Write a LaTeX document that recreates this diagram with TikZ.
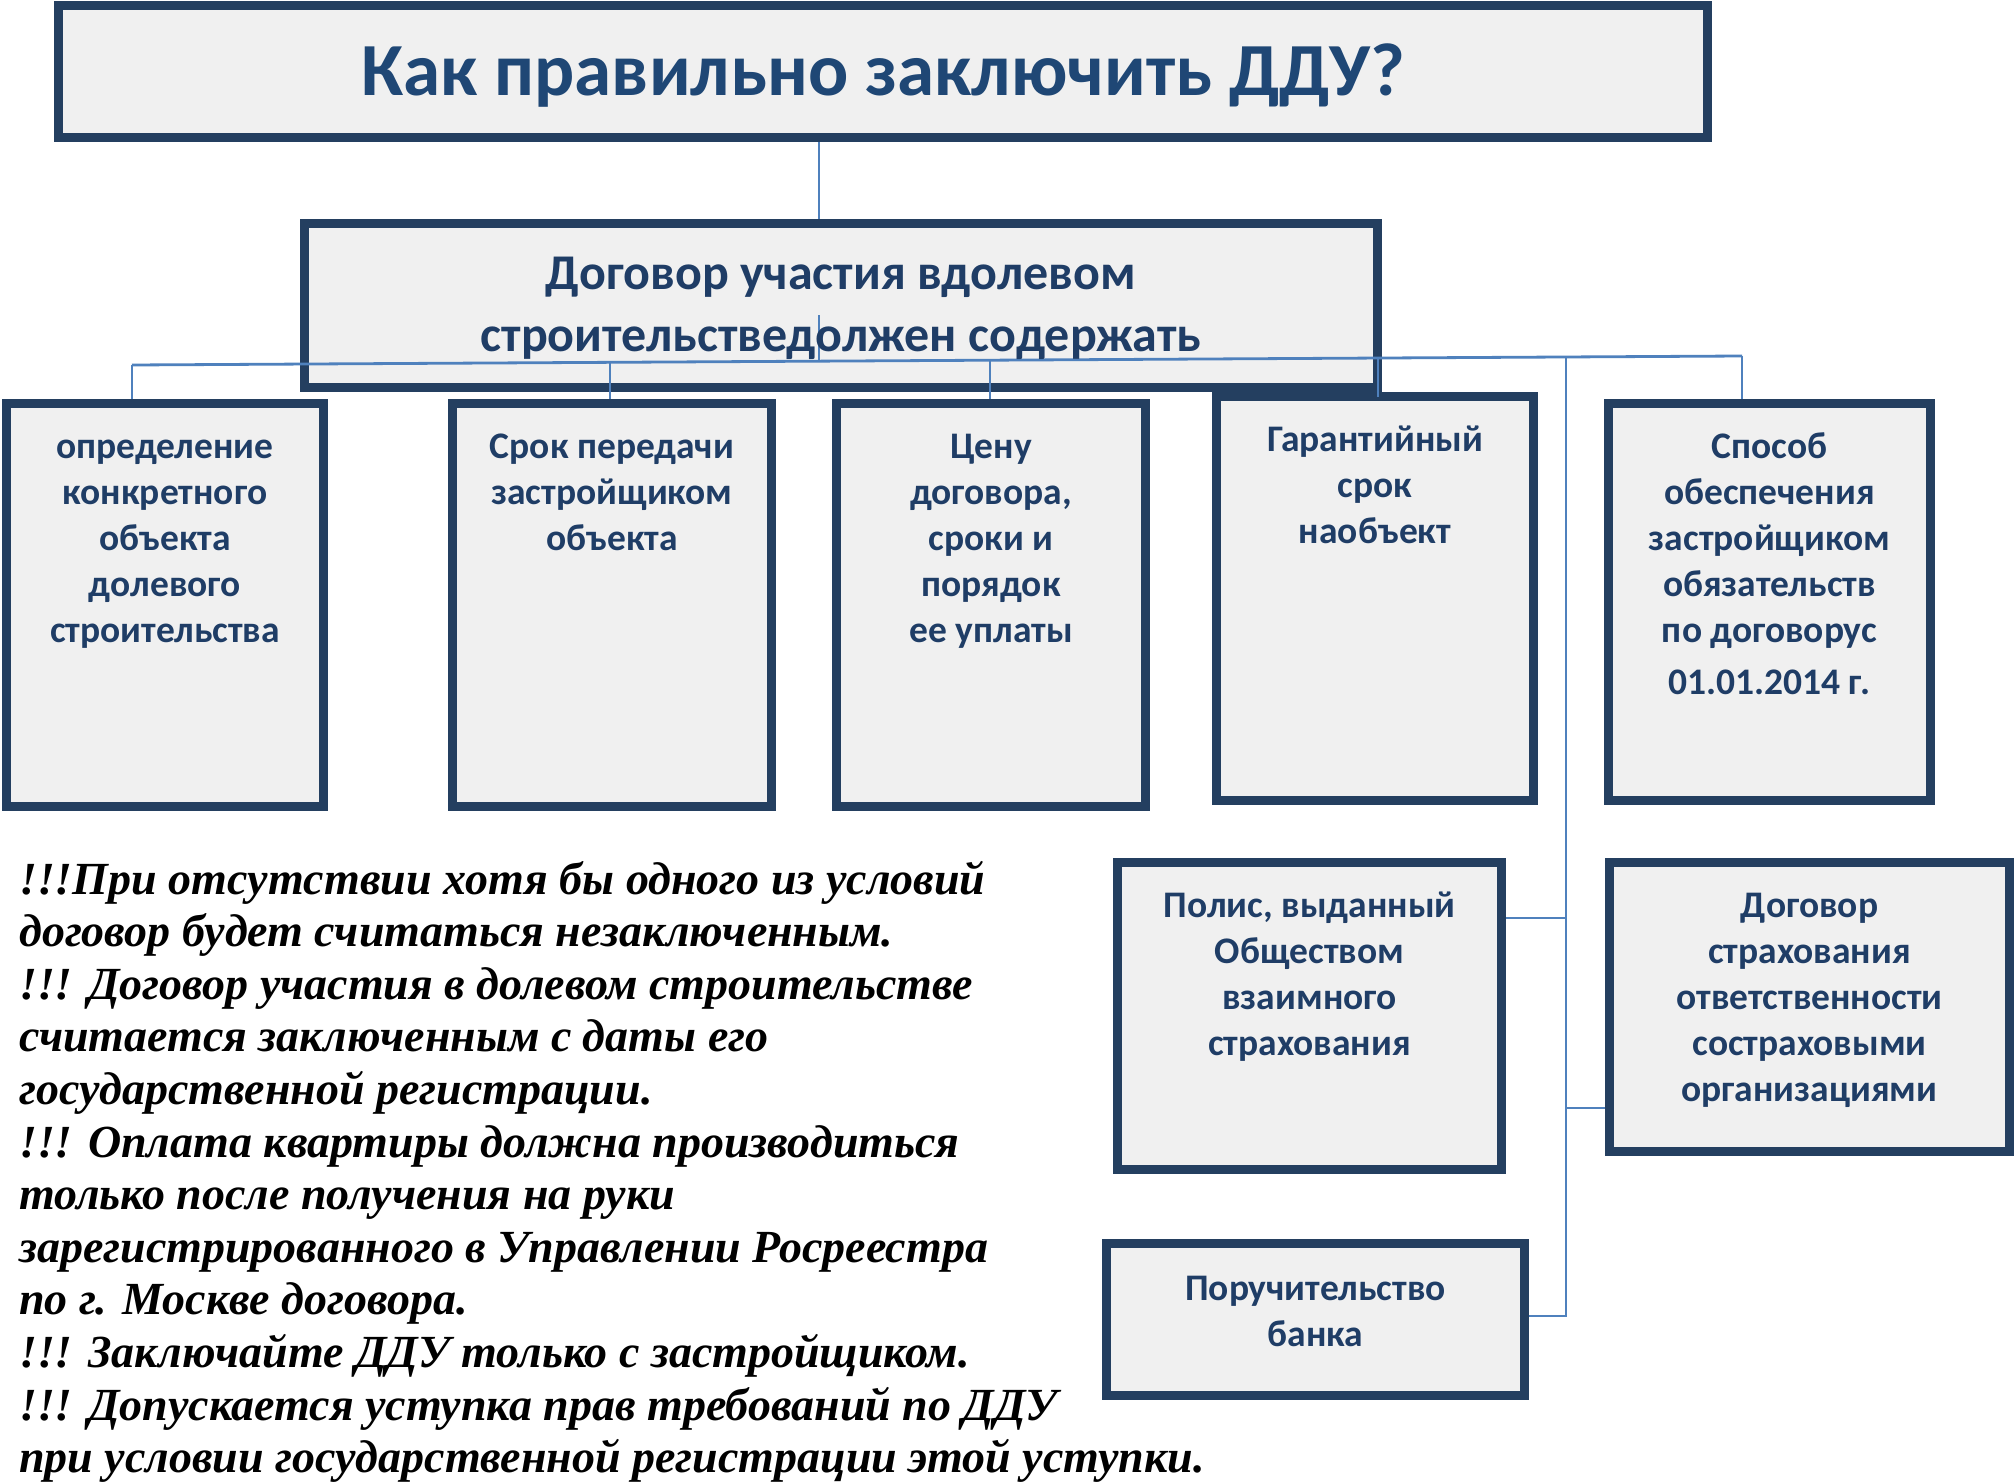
\documentclass[tikz,border=0pt]{standalone}
\usepackage{fontspec}
\setmainfont{Carlito}
\newfontfamily\notefont{Liberation Serif}
\usetikzlibrary{calc}
\definecolor{navyline}{HTML}{243F60}
\definecolor{boxfill}{HTML}{F0F0F0}
\definecolor{navytext}{HTML}{1F3D66}
\definecolor{titletext}{HTML}{1F4775}
\definecolor{conn}{HTML}{4F81BD}
\begin{document}
\begin{tikzpicture}[x=1pt,y=-1pt,
  box/.style={draw=navyline, fill=boxfill, line width=9pt, inner sep=0pt},
  btext/.style={text=navytext, font=\fontsize{37.5}{46}\selectfont\bfseries, inner sep=0pt, anchor=base},
  wire/.style={draw=conn, line width=2.8pt},
  notetext/.style={text=black, font=\notefont\bfseries\itshape\fontsize{46}{52.6}\selectfont, inner sep=0pt, anchor=base west}
]
\useasboundingbox[fill=white] (0,0) rectangle (2016,1482);

% boxes
\node[box, minimum width=1649pt, minimum height=132pt, text=titletext,
      font=\fontsize{75}{80}\selectfont\bfseries, text height=48pt, text depth=0pt] (title) at (883,71.5) {Как правильно заключить ДДУ?};
\node[box, minimum width=1073pt, minimum height=164pt] (sub) at (841,305.5) {};
\node[box, minimum width=317pt, minimum height=403pt] (b1) at (165,605) {};
\node[box, minimum width=319pt, minimum height=403pt] (b2) at (612,605) {};
\node[box, minimum width=309pt, minimum height=403pt] (b3) at (991,605) {};
\node[box, minimum width=317pt, minimum height=404pt] (b4) at (1375,598.5) {};
\node[box, minimum width=322pt, minimum height=397pt] (b5) at (1769.5,602) {};
\node[box, minimum width=384pt, minimum height=307pt] (polis) at (1309.5,1016) {};
\node[box, minimum width=400pt, minimum height=289pt] (dog) at (1809.5,1007) {};
\node[box, minimum width=418pt, minimum height=152pt] (poruch) at (1315.5,1319.5) {};

% connectors
\coordinate (busL) at (132,365);
\coordinate (busR) at (1742,356);
\coordinate (dt) at ($(busL)!0.4267!(busR)$);
\coordinate (d2) at ($(busL)!0.2969!(busR)$);
\coordinate (d3) at ($(busL)!0.5329!(busR)$);
\coordinate (d4) at ($(busL)!0.7739!(busR)$);
\coordinate (sp) at ($(busL)!0.8907!(busR)$);
\coordinate (yin) at (0,315);
\coordinate (ypolis) at (0,918);
\coordinate (ydog) at (0,1108);
\coordinate (yporuch) at (0,1316);

\draw[wire] (dt |- title.south) -- (dt |- sub.north);
\draw[wire] (dt |- yin) -- (dt);
\draw[wire] (busL) -- (busR);
\draw[wire] (busL) -- (busL |- b1.north);
\draw[wire] (d2) -- (d2 |- b2.north);
\draw[wire] (d3) -- (d3 |- b3.north);
\draw[wire] (d4) -- ($(d4 |- b4.north)+(0,5)$);
\draw[wire] (busR) -- (busR |- b5.north);
\draw[wire] (sp) -- (sp |- yporuch) -- (poruch.east |- yporuch);
\draw[wire] (sp |- ypolis) -- (polis.east |- ypolis);
\draw[wire] (sp |- ydog) -- (dog.west |- ydog);

% texts
\node[btext, font=\fontsize{50}{62}\selectfont\bfseries] (subt) at (841,289)
  {\begin{tabular}[t]{@{}c@{}}Договор участия вдолевом\\строительстведолжен содержать\end{tabular}};
\node[btext] (t1) at (165,458)
  {\begin{tabular}[t]{@{}c@{}}определение\\конкретного\\объекта\\долевого\\строительства\end{tabular}};
\node[btext] (t2) at (612,458)
  {\begin{tabular}[t]{@{}c@{}}Срок передачи\\застройщиком\\объекта\end{tabular}};
\node[btext] (t3) at (991,458)
  {\begin{tabular}[t]{@{}c@{}}Цену\\договора,\\сроки и\\порядок\\ее уплаты\end{tabular}};
\node[btext] (t4) at (1375,451)
  {\begin{tabular}[t]{@{}c@{}}Гарантийный\\срок\\наобъект\end{tabular}};
\node[btext] (t5) at (1769.5,458)
  {\begin{tabular}[t]{@{}c@{}}Способ\\обеспечения\\застройщиком\\обязательств\\по договорус\\[6pt]01.01.2014 г.\end{tabular}};
\node[btext] (tp) at (1309.5,917)
  {\begin{tabular}[t]{@{}c@{}}Полис, выданный\\Обществом\\взаимного\\страхования\end{tabular}};
\node[btext] (td) at (1809.5,917)
  {\begin{tabular}[t]{@{}c@{}}Договор\\страхования\\ответственности\\состраховыми\\организациями\end{tabular}};
\node[btext] (tr) at (1315.5,1300)
  {\begin{tabular}[t]{@{}c@{}}Поручительство\\банка\end{tabular}};

\node[notetext] (note) at (19,894)
  {\begin{tabular}[t]{@{}l@{}}
  !!!При отсутствии хотя бы одного из условий\\
  договор будет считаться незаключенным.\\
  !!! Договор участия в долевом строительстве\\
  считается заключенным с даты его\\
  государственной регистрации.\\
  !!! Оплата квартиры должна производиться\\
  только после получения на руки\\
  зарегистрированного в Управлении Росреестра\\
  по г. Москве договора.\\
  !!! Заключайте ДДУ только с застройщиком.\\
  !!! Допускается уступка прав требований по ДДУ\\
  при условии государственной регистрации этой уступки.
  \end{tabular}};
\end{tikzpicture}
\end{document}
